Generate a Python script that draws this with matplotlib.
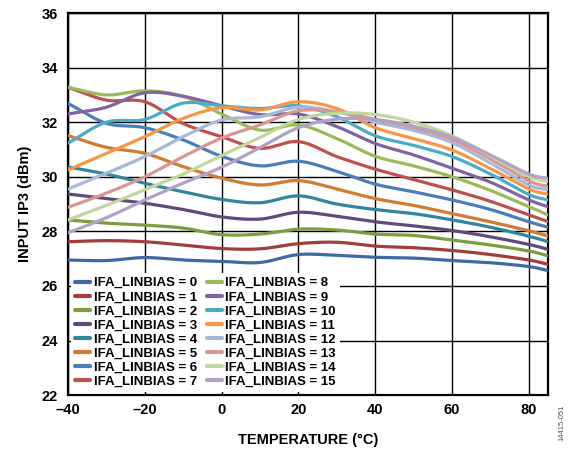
import numpy as np
import matplotlib
matplotlib.use("Agg")
import matplotlib.pyplot as plt

plt.rcParams['font.family'] = ['Liberation Sans', 'DejaVu Sans']

temps = [-40, -30, -20, -10, 0, 10, 20, 30, 40, 50, 60, 70, 80, 85]

ip3_0 = [26.95, 26.93, 27.04, 26.95, 26.90, 26.86, 27.15, 27.12, 27.05, 27.02, 26.93, 26.85, 26.71, 26.56]
ip3_1 = [27.62, 27.66, 27.62, 27.50, 27.37, 27.36, 27.55, 27.60, 27.46, 27.40, 27.30, 27.15, 26.95, 26.79]
ip3_2 = [28.42, 28.30, 28.23, 28.12, 27.88, 27.90, 28.08, 28.05, 27.90, 27.85, 27.68, 27.50, 27.28, 27.10]
ip3_3 = [29.37, 29.20, 29.03, 28.80, 28.53, 28.45, 28.70, 28.55, 28.35, 28.20, 28.03, 27.80, 27.52, 27.34]
ip3_4 = [30.36, 30.10, 29.76, 29.45, 29.17, 29.05, 29.30, 29.00, 28.80, 28.65, 28.42, 28.15, 27.82, 27.62]
ip3_5 = [31.51, 31.08, 30.86, 30.37, 29.95, 29.70, 29.86, 29.55, 29.20, 28.95, 28.65, 28.35, 28.02, 27.83]
ip3_6 = [32.69, 31.96, 31.80, 31.35, 30.75, 30.40, 30.57, 30.20, 29.73, 29.45, 29.15, 28.80, 28.35, 28.15]
ip3_7 = [33.28, 32.81, 32.75, 31.95, 31.47, 31.04, 31.29, 30.74, 30.28, 29.90, 29.52, 29.10, 28.60, 28.36]
ip3_8 = [33.28, 33.00, 33.15, 32.95, 32.30, 31.71, 31.90, 31.40, 30.75, 30.40, 30.00, 29.50, 28.90, 28.60]
ip3_9 = [32.30, 32.55, 33.08, 32.95, 32.60, 32.28, 32.30, 31.84, 31.22, 30.80, 30.31, 29.80, 29.15, 28.90]
ip3_10 = [31.23, 32.00, 32.10, 32.70, 32.60, 32.50, 32.60, 32.20, 31.50, 31.15, 30.74, 30.10, 29.35, 29.15]
ip3_11 = [30.25, 30.86, 31.47, 32.14, 32.53, 32.45, 32.75, 32.50, 31.80, 31.40, 30.98, 30.30, 29.55, 29.36]
ip3_12 = [29.55, 30.13, 30.74, 31.47, 32.08, 32.20, 32.55, 32.38, 32.00, 31.70, 31.25, 30.50, 29.70, 29.52]
ip3_13 = [28.88, 29.40, 30.00, 30.74, 31.42, 31.90, 32.42, 32.38, 32.10, 31.80, 31.37, 30.65, 29.85, 29.64]
ip3_14 = [28.42, 28.95, 29.53, 30.10, 30.78, 31.44, 32.10, 32.33, 32.28, 32.00, 31.50, 30.75, 30.00, 29.82]
ip3_15 = [27.95, 28.50, 29.15, 29.77, 30.35, 31.07, 31.80, 32.11, 32.10, 31.85, 31.45, 30.80, 30.10, 29.94]

series = [ip3_0, ip3_1, ip3_2, ip3_3, ip3_4, ip3_5, ip3_6, ip3_7,
          ip3_8, ip3_9, ip3_10, ip3_11, ip3_12, ip3_13, ip3_14, ip3_15]
labels = [f"IFA_LINBIAS = {i}" for i in range(16)]
colors = ["#3E6BA6", "#A33C3A", "#7E9D3C", "#604A7B", "#31859C", "#D47B30",
          "#4A7EBB", "#C0504D", "#9BBB59", "#8064A2", "#4BACC6", "#F79646",
          "#A7B9DB", "#D99694", "#C3D69B", "#B3A2C7"]

xticks = [-40, -20, 0, 20, 40, 60, 80]
yticks = [22, 24, 26, 28, 30, 32, 34, 36]


def catmull_rom(x, y, n=25):
    x = np.asarray(x, float)
    y = np.asarray(y, float)
    px = np.concatenate([[2 * x[0] - x[1]], x, [2 * x[-1] - x[-2]]])
    py = np.concatenate([[2 * y[0] - y[1]], y, [2 * y[-1] - y[-2]]])
    xs, ys = [], []
    t = np.linspace(0, 1, n, endpoint=False)
    for i in range(1, len(px) - 2):
        for arr, out in ((px, xs), (py, ys)):
            p0, p1, p2, p3 = arr[i - 1], arr[i], arr[i + 1], arr[i + 2]
            out.append(0.5 * ((2 * p1) + (-p0 + p2) * t
                              + (2 * p0 - 5 * p1 + 4 * p2 - p3) * t ** 2
                              + (-p0 + 3 * p1 - 3 * p2 + p3) * t ** 3))
    xs.append([x[-1]])
    ys.append([y[-1]])
    return np.concatenate(xs), np.concatenate(ys)


fig = plt.figure(figsize=(5.71, 4.5), dpi=100)
ax = fig.add_axes([0.119, 0.122, 0.841, 0.849])

for vals, lab, col in zip(series, labels, colors):
    sx, sy = catmull_rom(temps, vals)
    ax.plot(sx, sy, color=col, lw=2.3, label=lab, solid_capstyle='round', zorder=3)

ax.set_xlim(-40, 85)
ax.set_ylim(22, 36)
ax.set_xticks(xticks)
ax.set_xticklabels([str(v).replace('-', '\u2013') for v in xticks])
ax.set_yticks(yticks)
ax.grid(True, color='black', lw=1.0, zorder=1)
ax.set_axisbelow(True)
for s in ax.spines.values():
    s.set_linewidth(1.6)
    s.set_color('black')
ax.tick_params(axis='both', length=0, labelsize=10.5)
ax.tick_params(axis='x', pad=6)
ax.tick_params(axis='y', pad=7)
for lbl in ax.get_xticklabels() + ax.get_yticklabels():
    lbl.set_fontweight('bold')

ax.set_xlabel("TEMPERATURE (°C)", fontsize=10.5, fontweight='bold', labelpad=11)
ax.set_ylabel("INPUT IP3 (dBm)", fontsize=10.5, fontweight='bold', labelpad=7)

leg = ax.legend(loc='lower left', bbox_to_anchor=(0.0, 0.0), ncol=2,
                prop={'weight': 'bold', 'size': 9.5},
                frameon=True, fancybox=False, framealpha=1,
                edgecolor='none', facecolor='white',
                handlelength=1.15, handletextpad=0.25, columnspacing=0.75,
                labelspacing=0.14, borderpad=0.3, borderaxespad=0.25)
leg.set_zorder(5)
for h in leg.get_lines():
    h.set_linewidth(3.0)

fig.text(0.984, 0.06, "14415-051", rotation=90, fontsize=5.5, color='#555555',
         ha='center', va='center')

fig.savefig("out.png", dpi=100)
